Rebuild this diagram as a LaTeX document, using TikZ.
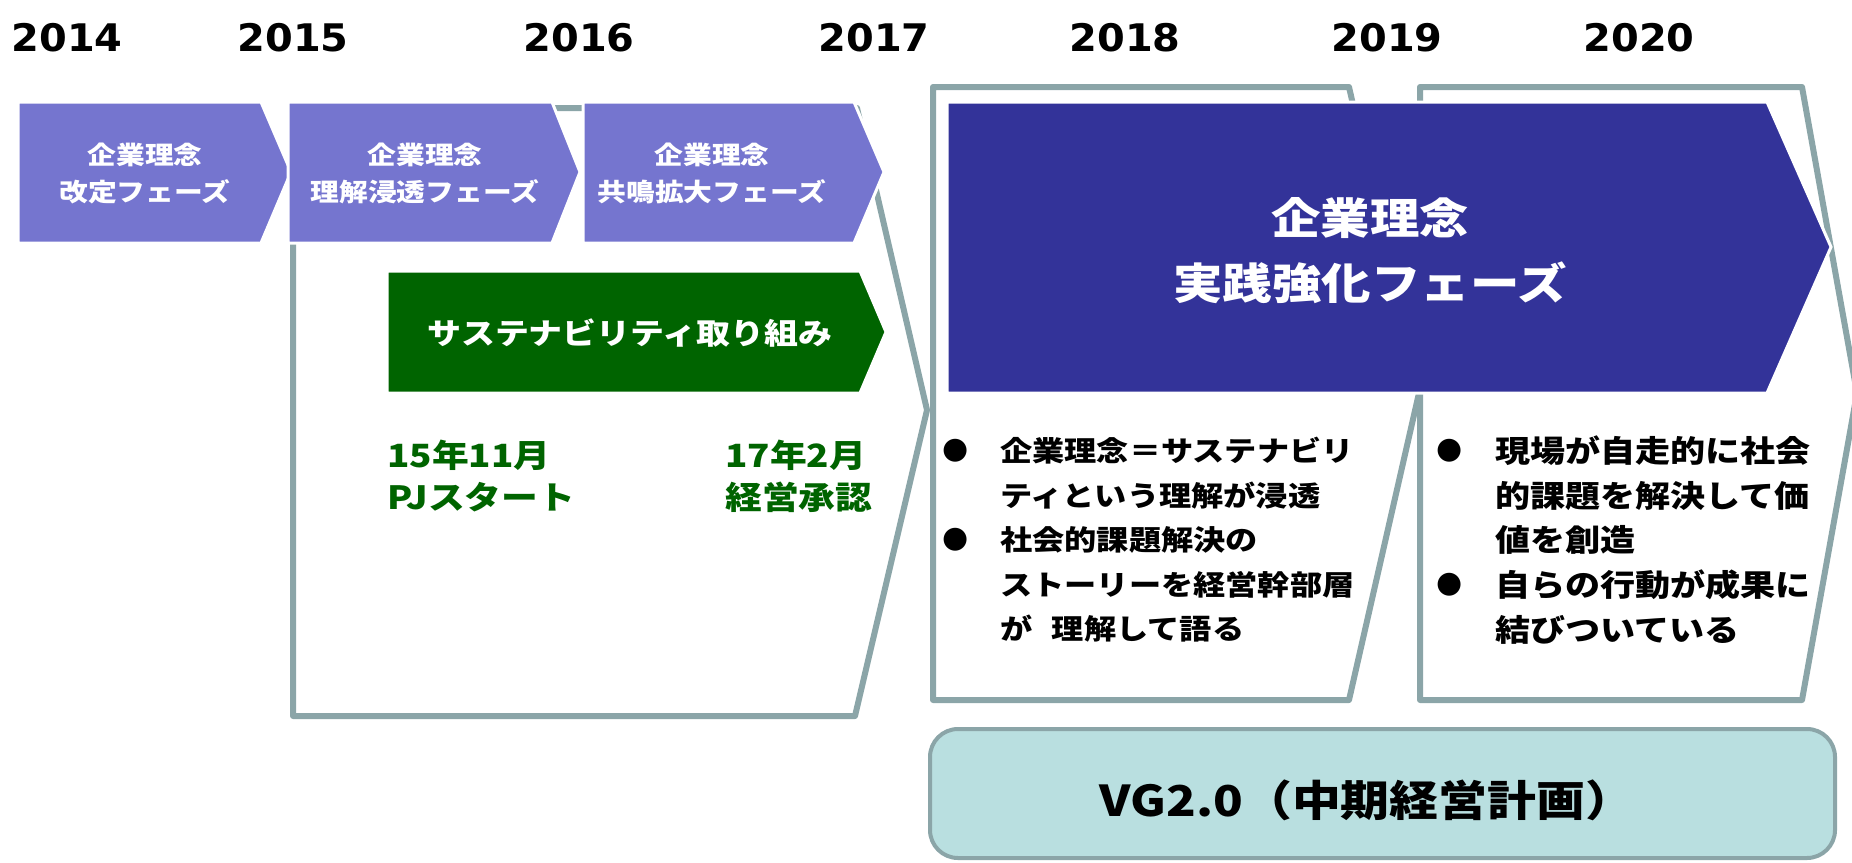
\documentclass[tikz,border=0pt]{standalone}
\usepackage{fontspec}
\setmainfont{DejaVu Sans}
\newfontfamily\jp{Noto Sans CJK JP}[FakeStretch=1.15]
\newfontfamily\yrfont{DejaVu Sans}[FakeStretch=1.05]
\definecolor{phase}{RGB}{117,117,207}
\definecolor{deepblue}{RGB}{51,51,153}
\definecolor{sgreen}{RGB}{0,100,0}
\definecolor{grayline}{RGB}{139,165,168}
\definecolor{vgfill}{RGB}{185,223,224}
\begin{document}
\begin{tikzpicture}[x=1pt,y=-1pt,
  outline/.style={draw=grayline, line width=6pt, fill=white, line join=round},
  phasebox/.style={fill=phase, draw=white, line width=3pt, line join=miter},
  bigbox/.style={fill=deepblue, draw=white, line width=3pt},
  greenbox/.style={fill=sgreen, draw=white, line width=3pt},
  year/.style={font=\yrfont\bfseries\fontsize{38}{40}\selectfont, inner sep=0pt},
  phasetext/.style={font=\jp\bfseries\fontsize{25}{37}\selectfont, text=white, align=center, inner sep=0pt},
  bigtext/.style={font=\jp\bfseries\fontsize{43}{65}\selectfont, text=white, align=center, inner sep=0pt},
  greentext/.style={font=\jp\bfseries\fontsize{29.5}{36}\selectfont, text=white, inner sep=0pt},
  datetext/.style={font=\jp\bfseries\fontsize{32}{42}\selectfont, text=sgreen, align=left, inner sep=0pt, anchor=west},
  bulletA/.style={font=\jp\bfseries\fontsize{28}{44.5}\selectfont, align=left, inner sep=0pt, anchor=west},
  bulletB/.style={font=\jp\bfseries\fontsize{30.5}{44.5}\selectfont, align=left, inner sep=0pt, anchor=west},
  dot/.style={font=\fontsize{30}{30}\selectfont, inner sep=0pt},
  vgtext/.style={font=\jp\bfseries\fontsize{42.5}{50}\selectfont, inner sep=0pt}
]
\useasboundingbox (0,0) rectangle (1852,862);
\clip (0,0) rectangle (1852,862);

% years
\node[year] (y2014) at (67,38) {2014};
\node[year] (y2015) at (293,38) {2015};
\node[year] (y2016) at (579,38) {2016};
\node[year] (y2017) at (874,38) {2017};
\node[year] (y2018) at (1125,38) {2018};
\node[year] (y2019) at (1387,38) {2019};
\node[year] (y2020) at (1639,38) {2020};

% gray outline frames
\draw[outline] (293,108) -- (857,108) -- (927,410) -- (855,716) -- (293,716) -- cycle;
\draw[outline] (933,87) -- (1349,87) -- (1419,393) -- (1349,700) -- (933,700) -- cycle;
\draw[outline] (1420,87) -- (1802,87) -- (1857,393) -- (1802,700) -- (1420,700) -- cycle;

% phase arrows
\draw[phasebox] (18,102) -- (261,102) -- (291,172) -- (261,243) -- (18,243) -- cycle;
\draw[phasebox] (288,102) -- (552,102) -- (580,172) -- (552,243) -- (288,243) -- cycle;
\draw[phasebox] (583,102) -- (854,102) -- (884,172) -- (854,243) -- (583,243) -- cycle;
\node[phasetext] (p1) at (145,173.5) {企業理念\\改定フェーズ};
\node[phasetext] (p2) at (425,173.5) {企業理念\\理解浸透フェーズ};
\node[phasetext] (p3) at (712,173.5) {企業理念\\共鳴拡大フェーズ};

% sustainability arrow
\draw[greenbox] (387,271) -- (860,271) -- (886,332) -- (860,393) -- (387,393) -- cycle;
\node[greentext] (sus) at (630,333) {サステナビリティ取り組み};
\node[datetext] (d1) at (387,476) {15年11月\\PJスタート};
\node[datetext] (d2) at (725,476) {17年2月\\経営承認};

% big phase arrow
\draw[bigbox] (947,102) -- (1767,102) -- (1831,247) -- (1767,393) -- (947,393) -- cycle;
\node[bigtext] (big) at (1370,250.5) {企業理念\\実践強化フェーズ};

% bullets
\node[dot] (ba1) at (956,451) {●};
\node[bulletA] (ta1) at (1000,473) {企業理念＝サステナビリ\\ティという理解が浸透};
\node[dot] (ba2) at (956,540) {●};
\node[bulletA] (ta2) at (1000,584.5) {社会的課題解決の\\ストーリーを経営幹部層\\が\hspace{0.7em}理解して語る};
\node[dot] (bb1) at (1450,451) {●};
\node[bulletB] (tb1) at (1495,495.5) {現場が自走的に社会\\的課題を解決して価\\値を創造};
\node[dot] (bb2) at (1450,584.5) {●};
\node[bulletB] (tb2) at (1495,607) {自らの行動が成果に\\結びついている};

% VG box
\draw[draw=grayline, line width=4pt, fill=vgfill, rounded corners=28pt] (930,729) rectangle (1835,858);
\node[vgtext] (vg) at (1367,800) {VG2.0（中期経営計画）};
\end{tikzpicture}
\end{document}
